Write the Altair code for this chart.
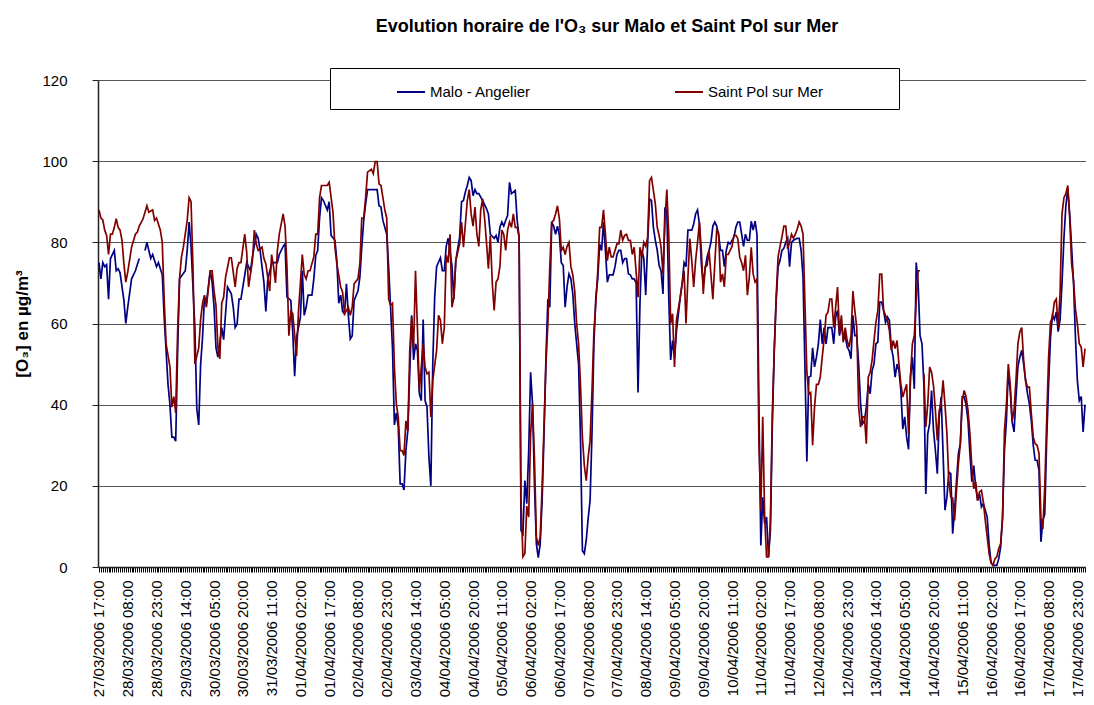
import json
import altair as alt
import pandas as pd

TITLE = "Evolution horaire de l'O₃ sur Malo et Saint Pol sur Mer"
Y_TITLE = "[O₃] en µg/m³"
SERIES = ["Malo - Angelier", "Saint Pol sur Mer"]
COLORS = ["#000080", "#800000"]
Y_TICKS = [0, 20, 40, 60, 80, 100, 120]

TICK_LABELS = [
    "27/03/2006 17:00", "28/03/2006 08:00", "28/03/2006 23:00", "29/03/2006 14:00",
    "30/03/2006 05:00", "30/03/2006 20:00", "31/03/2006 11:00", "01/04/2006 02:00",
    "01/04/2006 17:00", "02/04/2006 08:00", "02/04/2006 23:00", "03/04/2006 14:00",
    "04/04/2006 05:00", "04/04/2006 20:00", "05/04/2006 11:00", "06/04/2006 02:00",
    "06/04/2006 17:00", "07/04/2006 08:00", "07/04/2006 23:00", "08/04/2006 14:00",
    "09/04/2006 05:00", "09/04/2006 20:00", "10/04/2006 11:00", "11/04/2006 02:00",
    "11/04/2006 17:00", "12/04/2006 08:00", "12/04/2006 23:00", "13/04/2006 14:00",
    "14/04/2006 05:00", "14/04/2006 20:00", "15/04/2006 11:00", "16/04/2006 02:00",
    "16/04/2006 17:00", "17/04/2006 08:00", "17/04/2006 23:00",
]

# hour index since 27/03/2006 17:00 and O3 value (None = missing measurement)
MALO_H = [0, 1, 2, 3, 4, 5, 6, 8, 9, 10, 11, 13, 14, 15, 17, 19, 21, 22, 24, 25, 27, 28, 30, 31, 33, 34, 36, 37, 38, 39, 40, 41, 42, 45, 46, 47, 48, 50, 51, 52, 53, 54, 55, 56, 58, 59, 60, 61, 62, 64, 65, 67, 69, 70, 71, 72, 73, 74, 76, 77, 79, 80, 82, 83, 84, 86, 87, 88, 90, 91, 93, 94, 96, 97, 98, 100, 101, 102, 103, 105, 106, 107, 108, 109, 111, 112, 113, 114, 115, 116, 117, 119, 120, 121, 123, 124, 125, 126, 127, 128, 129, 130, 131, 132, 133, 135, 136, 137, 138, 139, 140, 142, 144, 145, 146, 147, 148, 150, 151, 152, 153, 154, 155, 156, 157, 158, 159, 160, 161, 163, 164, 165, 166, 167, 168, 169, 170, 171, 172, 173, 174, 175, 176, 178, 179, 180, 181, 182, 184, 185, 186, 188, 189, 190, 191, 192, 193, 194, 195, 196, 197, 198, 200, 201, 202, 203, 204, 206, 207, 208, 209, 210, 211, 212, 213, 214, 215, 217, 218, 219, 220, 221, 222, 223, 224, 225, 226, 227, 228, 229, 230, 231, 232, 233, 234, 235, 236, 237, 238, 239, 240, 241, 242, 243, 244, 245, 246, 247, 248, 250, 251, 252, 253, 254, 255, 256, 257, 258, 259, 260, 261, 262, 263, 264, 265, 266, 268, 269, 270, 271, 272, 273, 274, 275, 276, 277, 278, 279, 280, 281, 282, 283, 284, 285, 286, 287, 288, 289, 290, 291, 292, 293, 294, 295, 296, 297, 298, 299, 300, 301, 303, 304, 305, 306, 307, 308, 309, 310, 311, 312, 313, 314, 315, 316, 317, 318, 319, 320, 321, 322, 323, 324, 325, 326, 327, 328, 329, 331, 332, 333, 334, 335, 336, 337, 338, 339, 340, 341, 342, 343, 344, 345, 346, 347, 348, 349, 350, 351, 352, 353, 354, 355, 356, 357, 358, 359, 360, 361, 362, 364, 365, 366, 367, 368, 369, 370, 371, 372, 373, 374, 375, 376, 377, 378, 379, 380, 381, 382, 383, 384, 385, 386, 387, 388, 389, 390, 391, 392, 393, 394, 395, 396, 397, 398, 399, 400, 401, 402, 403, 404, 405, 406, 407, 408, 409, 410, 411, 412, 413, 414, 415, 416, 417, 418, 419, 420, 421, 422, 423, 424, 425, 426, 427, 428, 429, 430, 431, 432, 433, 434, 435, 436, 437, 438, 439, 440, 441, 442, 443, 444, 445, 446, 447, 448, 449, 450, 451, 452, 453, 454, 455, 456, 457, 458, 459, 460, 461, 462, 463, 464, 465, 466, 467, 468, 469, 470, 471, 472, 473, 474, 475, 476, 477, 478, 479, 480, 481, 482, 483, 484, 485, 486, 487, 488, 489, 490, 491, 492, 493, 494, 495, 496, 497, 498, 499, 500, 501, 502, 503, 504, 505, 506, 507, 508, 509, 510, 511, 512, 513, 514]
MALO_V = [75, 71, 75, 74, 74.5, 66, 76, 78, 73, 73.5, 72.5, 65.7, 60, 64, 71, 73, 76, None, 78, 80, 76, 77, 74, 75, 72, 61.5, 45, 40, 32, 32, 31, 53, 71, 73, 78, 85, 79, 59, 39, 35, 50, 56.6, 66.5, 65, 73, 70, 64, 54, 51.7, 59, 56, 69, 67.3, 64, 59, 59.8, 66, 66, 72, 75, 73, 76.4, 82, 81, 78, 70, 63, 71, 74.7, 75, 75, 77, 79, 79.6, 66.5, 65.7, 58, 47, 56.6, 61.5, 73, 62, 64, 67, 67, 71, 76.8, 78, 86, 91, 90.3, 88, 90, 81.7, 80.5, 75.5, 65, 67, 63, 62.4, 69.8, 62, 56.2, 57, 65.7, 68, 71.4, 78.8, 85.4, 89.5, 93, 93, 93, 93, 89, 88.7, 85.4, 82, 74, 64, 54, 35, 38, 34.5, 20.5, 20.5, 19, 28.7, 33.7, 62, 51, 55, 53.4, 42.7, 41, 61, 41, 39.4, 27, 20, 50, 66.5, 74, 76.2, 73, 73, 79, 81, 74.3, 66, 75.5, 81.3, 90, 90.3, 92.4, 94, 96, 95.2, 91.5, 93, 92, 92, 90.3, 89.3, 88.3, 87, 82, 81, 81.7, 80, 83.7, 85, 84, 85.4, 86.6, 94.8, 92, 92.8, 85.4, 81.3, 9, 8.2, 21.3, 15.6, 28.7, 48, 40.2, 20.5, 5.7, 2.3, 5.7, 16.4, 32.8, 51.7, 66, 64, 85, 84, 82, 84, 81.7, 75, 74.3, 64, 69, 72.2, 71, 67.3, 60, 50, 32, 4, 3.3, 6.6, 12, 16.4, 33, 55, 66.5, 71, 79.6, 78, 85, 78, 70.2, 72, 72, 74, 77, 78, 78, 75, 76, 76, 72.2, 72, 71, 71, 70, 43, 65, 78, 76, 67, 79.6, 90.7, 90.3, 83.7, 80.5, 78, 74.3, 73, 67.3, 88.3, 88, 66.5, 51, 55.8, 51.7, 58, 66.5, 69.8, 75, 74, 83, 83, 83, 84.5, 87, 88, 84.5, 74.7, 69.8, 73.5, 76.4, 78, 80, 84, 85, 84, 81.7, 78, 78, 74, 78, 80, 79.6, 81.3, 83.7, 85, 85, 82, 79, 82, 80.5, 80.5, 85.2, 83, 85.2, 82, 40, 5.3, 17.2, 10.7, 12.3, 2.5, 9, 35, 53.4, 65.7, 74, 75.5, 78, 78.5, 80, 81, 74, 80, 80.5, 81, 81, 78, 71.4, 49.3, 26, 46.8, 47, 54, 49.3, 51.7, 55, 61, 55, 59, 55, 59, 59, 59, 55, 61.6, 63.2, 57, 60, 56, 57, 54.2, 53.4, 51.3, 62, 57, 57, 50, 40.2, 35.3, 36, 39.4, 45, 42.7, 48.4, 50, 55, 55.4, 65.3, 65.3, 63.2, 60.3, 61.6, 60.8, 54.2, 51.7, 46.8, 50, 48.4, 43.5, 34, 37, 32, 29, 46.8, 51.7, 43.9, 75, 69.8, 57, 55, 45, 18, 32.8, 35.3, 43.5, 33.7, 28.7, 23, 37, 41.9, 28, 14, 17.2, 23.4, 23, 8.2, 14, 21.3, 28, 30.4, 41.9, 41.9, 40, 36, 28, 21, 25, 19.7, 16.4, 18, 14.8, 15.6, 14, 12.3, 5.5, 1.2, 0.4, 0.4, 0.4, 2, 4.9, 12.3, 28.7, 36, 48.4, 43.5, 35.7, 33.3, 41.9, 49.3, 51.7, 53.4, 50, 46, 42.7, 40.2, 36, 30, 26.3, 26.3, 23.8, 6.2, 11.5, 13, 31.2, 45, 56.6, 62, 61, 62.8, 58, 61, 70, 81, 89, 93.2, 87, 78.8, 70, 56.6, 46, 41, 42, 33.3, 40]

SPM_H = [0, 1, 2, 3, 4, 5, 6, 7, 8, 9, 10, 11, 12, 13, 14, 15, 17, 19, 20, 21, 23, 25, 26, 28, 29, 30, 32, 33, 34, 35, 37, 38, 39, 40, 41, 42, 43, 44, 46, 47, 48, 49, 50, 52, 53, 54, 55, 56, 58, 59, 60, 61, 62, 63, 64, 65, 66, 68, 69, 71, 72, 73, 74, 76, 77, 78, 80, 81, 82, 83, 85, 86, 87, 89, 90, 91, 92, 93, 94, 96, 97, 98, 99, 100, 101, 103, 104, 106, 107, 108, 109, 110, 112, 113, 114, 115, 116, 118, 119, 120, 122, 123, 124, 126, 127, 128, 130, 131, 132, 133, 135, 136, 137, 138, 139, 140, 142, 143, 144, 145, 146, 147, 148, 149, 150, 151, 152, 153, 154, 155, 156, 157, 158, 159, 160, 161, 162, 163, 164, 165, 166, 167, 169, 170, 171, 172, 173, 174, 176, 177, 178, 179, 180, 181, 182, 183, 184, 185, 186, 188, 189, 190, 192, 193, 194, 195, 196, 197, 198, 199, 200, 201, 202, 203, 204, 205, 206, 207, 208, 209, 210, 211, 212, 213, 214, 215, 216, 217, 218, 219, 220, 221, 222, 223, 224, 225, 226, 227, 228, 229, 230, 231, 232, 233, 234, 235, 236, 237, 238, 239, 240, 241, 242, 243, 244, 245, 246, 247, 248, 249, 250, 251, 252, 253, 254, 255, 256, 257, 258, 259, 260, 261, 262, 263, 264, 265, 266, 267, 268, 269, 270, 271, 272, 273, 274, 275, 276, 277, 278, 279, 280, 281, 282, 283, 284, 285, 286, 287, 288, 289, 290, 291, 292, 293, 294, 295, 296, 297, 298, 299, 300, 301, 303, 304, 305, 306, 307, 308, 309, 310, 311, 312, 313, 314, 315, 316, 317, 318, 319, 320, 321, 322, 323, 324, 325, 326, 327, 328, 329, 330, 331, 332, 333, 334, 335, 336, 337, 338, 339, 340, 341, 342, 343, 344, 345, 346, 347, 348, 349, 350, 351, 352, 353, 354, 355, 356, 357, 358, 359, 360, 361, 362, 363, 364, 365, 366, 367, 368, 369, 370, 371, 372, 373, 374, 375, 376, 377, 378, 379, 380, 381, 382, 383, 384, 385, 386, 387, 388, 389, 390, 391, 392, 393, 394, 395, 396, 397, 398, 399, 400, 401, 402, 403, 404, 405, 406, 407, 408, 409, 410, 411, 412, 413, 414, 415, 416, 417, 418, 419, 420, 421, 422, 423, 424, 425, 426, 427, 428, 429, 430, 431, 432, 433, 434, 435, 436, 437, 438, 439, 440, 441, 442, 443, 444, 445, 446, 447, 448, 449, 450, 451, 452, 453, 454, 455, 456, 457, 458, 459, 460, 461, 462, 463, 464, 465, 466, 467, 468, 469, 470, 471, 472, 473, 474, 475, 476, 477, 478, 479, 480, 481, 482, 483, 484, 485, 486, 487, 488, 489, 490, 491, 492, 493, 494, 495, 496, 497, 498, 499, 500, 501, 502, 503, 504, 505, 506, 507, 508, 509, 510, 511, 512, 513, 514]
SPM_V = [88, 86, 85.5, 83, 81.7, 77, 82, 82, 83.7, 85.8, 83.7, 83, 80.5, 74.7, 70.2, 72.7, 78.8, 82, 82.5, 84, 85.8, 89, 87.4, 88, 85.4, 86, 83, 80, 65.7, 55, 49.3, 39.4, 42, 38, 58, 71, 76.4, 78.8, 85.4, 91, 90, 74, 50, 54, 61, 65, 67, 64, 73, 73, 68, 64.4, 54, 51.3, 65, 66.5, 71.4, 76.2, 76.2, 69, 73.5, 75, 75, 82, 77.6, 69, 75.5, 83, 79.6, 78, 78.8, 76, 74.7, 68, 77, 74, 70, 78, 82, 87, 84, 74, 57, 63, 62.5, 52, 63, 77, 72, 71, 73, 73, 76.4, 82, 82, 91, 94, 94, 94, 94.8, 87.4, 78.8, 74.7, 69, 67.7, 62.4, 64, 62, 64, 69.8, 71, 74.7, 86, 86, 91, 97.3, 98, 96.9, 99.9, 99.9, 94.4, 94, 91, 88, 86, 66, 64.5, 65, 49.3, 40.2, 37, 28.7, 28.7, 27.5, 36, 33.5, 53.4, 61.6, 54, 73, 59, 43.5, 55, 49.3, 47.6, 48, 37, 46, 53.4, 62, 60.8, 55, 59, 76.8, 75, 82, 64, 66.5, 75.5, 79.6, 85, 78.8, 90.3, 93, 87, 84, 88.7, 82, 79, 88, 90.7, 86, 80, 73.5, 81.7, 70.2, 63.2, 70.2, 71, 74, 83, 82, 78, 83, 85, 83.7, 87, 83.7, 83.7, 81.3, 16.4, 2.5, 3.3, 15, 12.3, 32.8, 40.2, 27, 7.4, 5.3, 7.4, 19.7, 35, 50, 60, 74, 85, 85.4, 87, 89, 85.8, 78, 78.8, 77, 79, 80, 74, 72, 68, 60, 55, 45, 32, 25, 21.3, 27, 31.2, 43.5, 58, 65, 73, 83.7, 83.7, 88, 82, 75.5, 78.8, 76.4, 76.4, 78, 79.6, 79.6, 83, 80.5, 81.7, 82, 80.5, 80.5, 77, 78.8, 72.7, 66.5, 78.8, 76.4, 80, 79, 81.3, 95.2, 96, 92.8, 89.5, 83.7, 81.7, 78.8, 72.2, 85, 93, 82, 60, 62.4, 49.3, 60.8, 66.5, 69.8, 73, 60, 71.4, 80.9, 75.5, 69, 75.5, 80, 85, 78, 67.3, 74, 74.3, 78, 72, 66, 74.7, 83, 82.3, 70.2, 72.2, 69, 77, 77, 78, 79, 81.7, 81.7, 80.9, 76.4, 75, 73, 76.8, 67, 71.4, 78.8, 72.2, 70.2, 71, 31, 14, 37, 12.3, 2.5, 2.5, 11.5, 37.8, 53.4, 66.5, 76.4, 79, 81.3, 84, 84, 78.4, 80, 82, 81, 82, 83.3, 85, 84, 82, 65, 48, 42.7, 43, 30, 39.4, 45, 45, 46.8, 51.7, 56.2, 62, 62.8, 66, 66, 59, 64, 69, 57.5, 62, 55.4, 59, 55.8, 54.2, 57, 68, 63.2, 59, 39.4, 34.5, 37, 37, 30.4, 46.8, 48, 51, 55.8, 60.3, 63.2, 72.2, 72.2, 63.2, 62, 60.8, 58.3, 53.4, 55.8, 53.8, 55.8, 50, 45, 41.9, 43.5, 45, 32.8, 46.8, 55, 57, 65.7, 73, 73, None, 47.6, 34.5, 40, 49.3, 48, 44.7, 38.6, 31.2, 38.6, 40.2, 46, 40, 32.8, 21.3, 17.2, 17, 11.5, 18.9, 25.5, 30.4, 41, 43.5, 41.9, 38.6, 32.8, 24.6, 19.3, 21, 16.4, 18.5, 18.9, 16, 11.5, 7.4, 3.3, 1, 0.4, 2, 2.5, 4.5, 5.7, 12, 33.7, 40, 50, 45, 36, 38.6, 46, 55, 57.9, 59, 51, 46, 44.3, 44.3, 37.8, 32, 30.4, 30, 28, 12, 9.4, 19.7, 36, 51.7, 60.3, 61.6, 65.3, 66, 59, 67.7, 87, 91, 92, 94, 86, 74.7, 70.6, 63.6, 60, 55, 54.2, 49.3, 53.8]

assert len(MALO_H) == len(MALO_V), (len(MALO_H), len(MALO_V))
assert len(SPM_H) == len(SPM_V), (len(SPM_H), len(SPM_V))

rows = []
for h, v in zip(MALO_H, MALO_V):
    rows.append({"series": SERIES[0], "hour": h, "value": v})
for h, v in zip(SPM_H, SPM_V):
    rows.append({"series": SERIES[1], "hour": h, "value": v})
df = pd.DataFrame(rows)

FONT = "Liberation Sans"
label_expr = "datum.value % 15 == 0 ? " + json.dumps(TICK_LABELS) + "[datum.value / 15] : ''"
# widen the legend frame on its right side like the original box
# (trailing no-break spaces closed by a zero-width space so they are not trimmed)
pad = "\u00a0" * 16 + "\u200b"
legend_label_expr = "datum.label == '" + SERIES[1] + "' ? datum.label + '" + pad + "' : datum.label"

x = alt.X(
    "hour:Q",
    scale=alt.Scale(domain=[-0.5, 514.5], nice=False, zero=False),
    axis=alt.Axis(
        values=list(range(0, 515)),
        labelExpr=label_expr,
        labelAngle=270,
        labelAlign="right",
        labelBaseline="middle",
        labelPadding=8,
        labelOverlap=False,
        labelFlush=False,
        labelFont=FONT,
        labelFontSize=15,
        labelColor="#000",
        tickSize=5,
        tickColor="#000",
        tickWidth=1,
        domainColor="#222",
        domainWidth=1.5,
        grid=False,
        title=None,
    ),
)
y = alt.Y(
    "value:Q",
    scale=alt.Scale(domain=[0, 120], nice=False),
    axis=alt.Axis(
        values=Y_TICKS,
        grid=True,
        gridColor="#555",
        gridWidth=1,
        labelFont=FONT,
        labelFontSize=15,
        labelColor="#000",
        labelPadding=25,
        tickSize=6,
        tickColor="#222",
        domainColor="#222",
        domainWidth=1.5,
        title=Y_TITLE,
        titleFont=FONT,
        titleFontSize=17,
        titleFontWeight="bold",
        titleColor="#000",
        titleAngle=270,
        titleAlign="center",
        titleBaseline="middle",
        titleX=-76,
        titleY=243.5,
    ),
)
color = alt.Color(
    "series:N",
    scale=alt.Scale(domain=SERIES, range=COLORS),
    legend=alt.Legend(
        title=None,
        orient="none",
        legendX=232,
        legendY=-12,
        direction="horizontal",
        symbolType="stroke",
        symbolSize=784,
        symbolStrokeWidth=2,
        symbolOffset=57,
        labelFont=FONT,
        labelFontSize=15,
        labelColor="#000",
        labelOffset=4,
        labelLimit=400,
        labelExpr=legend_label_expr,
        columnPadding=86,
        padding=9,
        strokeColor="#000",
        fillColor="#fff",
    ),
)

chart = (
    alt.Chart(df)
    .mark_line(strokeWidth=1.7, clip=True, invalid="break-paths-filter-domains")
    .encode(x=x, y=y, color=color, order="hour:Q")
    .properties(
        width=988,
        height=487,
        title=alt.TitleParams(
            TITLE,
            font=FONT,
            fontSize=18,
            fontWeight="bold",
            color="#000",
            anchor="middle",
            dx=15,
            offset=32,
        ),
        autosize=alt.AutoSizeParams(type="none"),
        padding={"left": 90, "top": 72, "right": 0, "bottom": 130},
    )
    .configure_view(stroke=None)
    .configure(background="#ffffff")
)

chart.save("out.html", embed_options={"renderer": "svg", "actions": False})
